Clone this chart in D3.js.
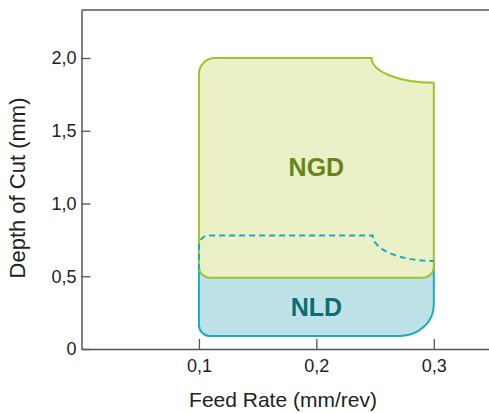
<!DOCTYPE html>
<html>
<head>
<meta charset="utf-8">
<script src="https://cdn.jsdelivr.net/npm/d3@7"></script>
<style>
  html, body { margin: 0; padding: 0; background: #fff; }
  svg { display: block; font-family: "Liberation Sans", Arial, sans-serif; }
</style>
</head>
<body>
<svg id="chart" width="489" height="413"></svg>
<script>
// ---- data (feed rate in mm/rev, depth of cut in mm) ----
const xDomain = [0, 0.347];
const yDomain = [0, 2.33];
const xTickValues = [0.1, 0.2, 0.3];
const xTickLabels = ["0,1", "0,2", "0,3"];
const yTickValues = [0, 0.5, 1.0, 1.5, 2.0];
const yTickLabels = ["0", "0,5", "1,0", "1,5", "2,0"];

// NGD region: [feed min, feed max], [depth min, depth max], notch start feed, depth at max feed
const ngdFeed = [0.1, 0.3];
const ngdDepth = [0.49, 2.0];
const ngdNotch = [0.247, 1.83];
// NLD region
const nldFeed = [0.1, 0.3];
const nldDepth = [0.09, 0.78];
const nldNotch = [0.248, 0.605];

const labels = ["NGD", "NLD"];
const labelPos = [[0.2, 1.25], [0.2, 0.29]];

// ---- layout ----
const mLeft = 81.5, mRight = 489, mTop = 10, mBottom = 349;

const svg = d3.select("#chart");
const x = d3.scaleLinear().domain(xDomain).range([mLeft, mRight]);
const y = d3.scaleLinear().domain(yDomain).range([mBottom, mTop]);

const K = 0.5523;

function ngdPath() {
  const x0 = x(ngdFeed[0]), x1 = x(ngdFeed[1]);
  const yb = y(ngdDepth[0]), yt = y(ngdDepth[1]);
  const nx = x(ngdNotch[0]), ny = y(ngdNotch[1]);
  const rTL = 16, rB = 11;
  const rx = x1 - nx, ry = ny - yt;
  const p = d3.path();
  p.moveTo(x0, yb - rB);
  p.lineTo(x0, yt + rTL);
  p.arcTo(x0, yt, x0 + rTL, yt, rTL);
  p.lineTo(nx, yt);
  p.bezierCurveTo(nx, yt + K * ry, x1 - K * rx, ny, x1, ny);
  p.lineTo(x1, yb - rB);
  p.arcTo(x1, yb, x1 - rB, yb, rB);
  p.lineTo(x0 + rB, yb);
  p.arcTo(x0, yb, x0, yb - rB, rB);
  p.closePath();
  return p.toString();
}

function nldTop(p, x0, x1, yt, nx, ny, rTL) {
  const rx = x1 - nx, ry = ny - yt;
  p.lineTo(x0, yt + rTL);
  p.arcTo(x0, yt, x0 + rTL, yt, rTL);
  p.lineTo(nx, yt);
  p.bezierCurveTo(nx, yt + K * ry, x1 - K * rx, ny, x1, ny);
}

function nldPath() {
  const x0 = x(nldFeed[0]), x1 = x(nldFeed[1]);
  const yb = y(nldDepth[0]), yt = y(nldDepth[1]);
  const nx = x(nldNotch[0]), ny = y(nldNotch[1]);
  const rTL = 10, rBL = 11, brx = 34, bry = 31;
  const p = d3.path();
  p.moveTo(x0, yb - rBL);
  nldTop(p, x0, x1, yt, nx, ny, rTL);
  p.lineTo(x1, yb - bry);
  p.bezierCurveTo(x1, yb - bry + K * bry, x1 - brx + K * brx, yb, x1 - brx, yb);
  p.lineTo(x0 + rBL, yb);
  p.arcTo(x0, yb, x0, yb - rBL, rBL);
  p.closePath();
  return p.toString();
}

function nldDashed() {
  const x0 = x(nldFeed[0]), x1 = x(nldFeed[1]);
  const yt = y(nldDepth[1]);
  const nx = x(nldNotch[0]), ny = y(nldNotch[1]);
  const p = d3.path();
  p.moveTo(x0, y(ngdDepth[0]) - 8);
  nldTop(p, x0, x1, yt, nx, ny, 10);
  return p.toString();
}

// NLD (behind)
svg.append("path").attr("d", nldPath())
  .attr("fill", "#bfe2e8").attr("stroke", "#17adbe").attr("stroke-width", 2);

// NGD (front)
svg.append("path").attr("d", ngdPath())
  .attr("fill", "#ebf0c6").attr("stroke", "#9dc42b").attr("stroke-width", 2);

// NLD hidden boundary, dashed
svg.append("path").attr("d", nldDashed())
  .attr("fill", "none").attr("stroke", "#17adbe").attr("stroke-width", 2)
  .attr("stroke-dasharray", "6,4");

// region labels
svg.selectAll("text.region").data(labels).enter().append("text")
  .attr("class", "region")
  .attr("x", (d, i) => x(labelPos[i][0]))
  .attr("y", (d, i) => y(labelPos[i][1]))
  .attr("text-anchor", "middle")
  .attr("dy", "0.35em")
  .attr("font-size", 25).attr("font-weight", "bold")
  .attr("fill", (d, i) => i === 0 ? "#66861b" : "#0d6c74")
  .text(d => d);

// axes
const axisColor = "#555";
const yAxis = d3.axisLeft(y).tickValues(yTickValues)
  .tickFormat((d, i) => yTickLabels[i]).tickSizeInner(-9).tickSizeOuter(0).tickPadding(5);
const xAxis = d3.axisBottom(x).tickValues(xTickValues)
  .tickFormat((d, i) => xTickLabels[i]).tickSizeInner(-10).tickSizeOuter(0).tickPadding(10);

const gy = svg.append("g").attr("transform", `translate(${mLeft},0)`).call(yAxis);
const gx = svg.append("g").attr("transform", `translate(0,${mBottom})`).call(xAxis);
[gx, gy].forEach(g => {
  g.attr("font-size", null).attr("font-family", null);
  g.select(".domain").attr("stroke", axisColor).attr("stroke-width", 1.5);
  g.selectAll(".tick line").attr("stroke", axisColor).attr("stroke-width", 1.3);
  g.selectAll(".tick text").attr("fill", "#222")
    .style("font-size", "18px")
    .style("font-family", "'Liberation Sans', Arial, sans-serif");
});

// top frame line
svg.append("line").attr("x1", mLeft).attr("x2", mRight).attr("y1", mTop).attr("y2", mTop)
  .attr("stroke", axisColor).attr("stroke-width", 1.5);

// axis titles
svg.append("text").attr("x", 283).attr("y", 407)
  .attr("text-anchor", "middle").style("font-size", "21px").attr("fill", "#222")
  .text("Feed Rate (mm/rev)");
svg.append("text").attr("transform", `translate(25,188) rotate(-90)`)
  .attr("text-anchor", "middle").style("font-size", "22px").attr("fill", "#222")
  .text("Depth of Cut (mm)");
</script>
</body>
</html>
